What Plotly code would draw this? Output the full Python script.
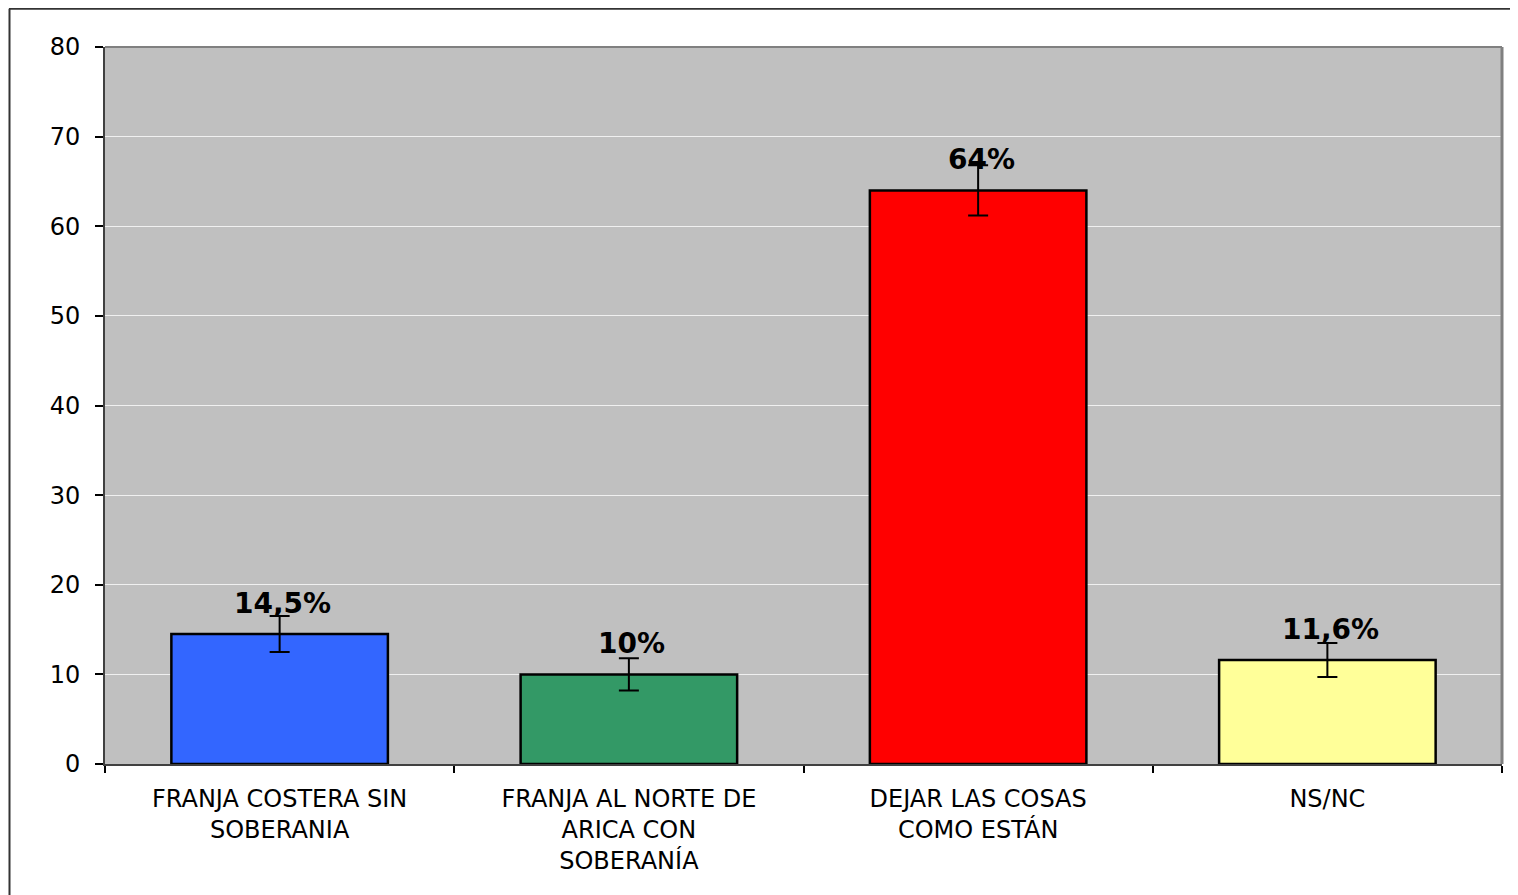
import plotly.graph_objects as go

categories = ["FRANJA COSTERA SIN<br>SOBERANIA",
              "FRANJA AL NORTE DE<br>ARICA CON<br>SOBERANÍA",
              "DEJAR LAS COSAS<br>COMO ESTÁN",
              "NS/NC"]
values = [14.5, 10, 64, 11.6]
errors = [2.0, 1.8, 2.8, 1.9]
labels = ["14,5%", "10%", "64%", "11,6%"]
colors = ["#3366FF", "#339966", "#FF0000", "#FFFF99"]
y_ticks = [0, 10, 20, 30, 40, 50, 60, 70, 80]

W, H = 1518, 895
OFF = 8  # page body margin offset
L, T = 105 - OFF, 47 - OFF
R = W - (1502 - OFF)
B = H - (764 - OFF)
pw, ph = W - L - R, H - T - B

def px(x):
    return (x - OFF - L) / pw

def py(y):
    return 1 - (y - OFF - T) / ph

FONT = "DejaVu Sans, Arial, sans-serif"

fig = go.Figure()
fig.add_trace(go.Bar(
    x=categories, y=values,
    marker=dict(color=colors, line=dict(color="black", width=2.5)),
    width=0.62,
    error_y=dict(type="data", array=errors, visible=True,
                 color="black", thickness=2, width=10),
    hoverinfo="skip",
))

for c, v, t in zip(categories, values, labels):
    fig.add_annotation(x=c, y=v, text=f"<b>{t}</b>", showarrow=False,
                       yanchor="bottom", yshift=12, xshift=3,
                       font=dict(family=FONT, size=28, color="black"))

shapes = []
# outer frame
shapes.append(dict(type="line", xref="paper", yref="paper",
                   x0=px(9), x1=px(1530), y0=py(8.8), y1=py(8.8),
                   line=dict(color="#333333", width=2)))
shapes.append(dict(type="line", xref="paper", yref="paper",
                   x0=px(9.5), x1=px(9.5), y0=py(8.8), y1=py(910),
                   line=dict(color="#333333", width=2)))
# plot area border (top, right gray)
shapes.append(dict(type="line", xref="paper", yref="paper",
                   x0=0, x1=1, y0=1, y1=1, line=dict(color="#808080", width=2)))
shapes.append(dict(type="line", xref="paper", yref="paper",
                   x0=1, x1=1, y0=0, y1=1, line=dict(color="#808080", width=3)))

fig.update_layout(
    width=W, height=H,
    margin=dict(l=L, r=R, t=T, b=B),
    paper_bgcolor="white",
    plot_bgcolor="#C0C0C0",
    showlegend=False,
    shapes=shapes,
    font=dict(family=FONT, color="black"),
)
fig.update_xaxes(
    type="category", tickson="boundaries", ticks="outside", ticklen=7,
    tickcolor="black", tickwidth=1.5,
    showline=True, linecolor="#404040", linewidth=2,
    tickfont=dict(family=FONT, size=24, color="black"),
    ticklabelstandoff=12,
    showgrid=False,
)
fig.update_yaxes(
    range=[0, 80], tickvals=y_ticks, ticks="outside", ticklen=8,
    tickcolor="black", tickwidth=1.5,
    showline=True, linecolor="#404040", linewidth=2,
    gridcolor="#F0F0F0", gridwidth=1,
    tickfont=dict(family=FONT, size=24, color="black"),
    ticklabelstandoff=10,
    zeroline=False,
)

fig.write_html("out.html")
